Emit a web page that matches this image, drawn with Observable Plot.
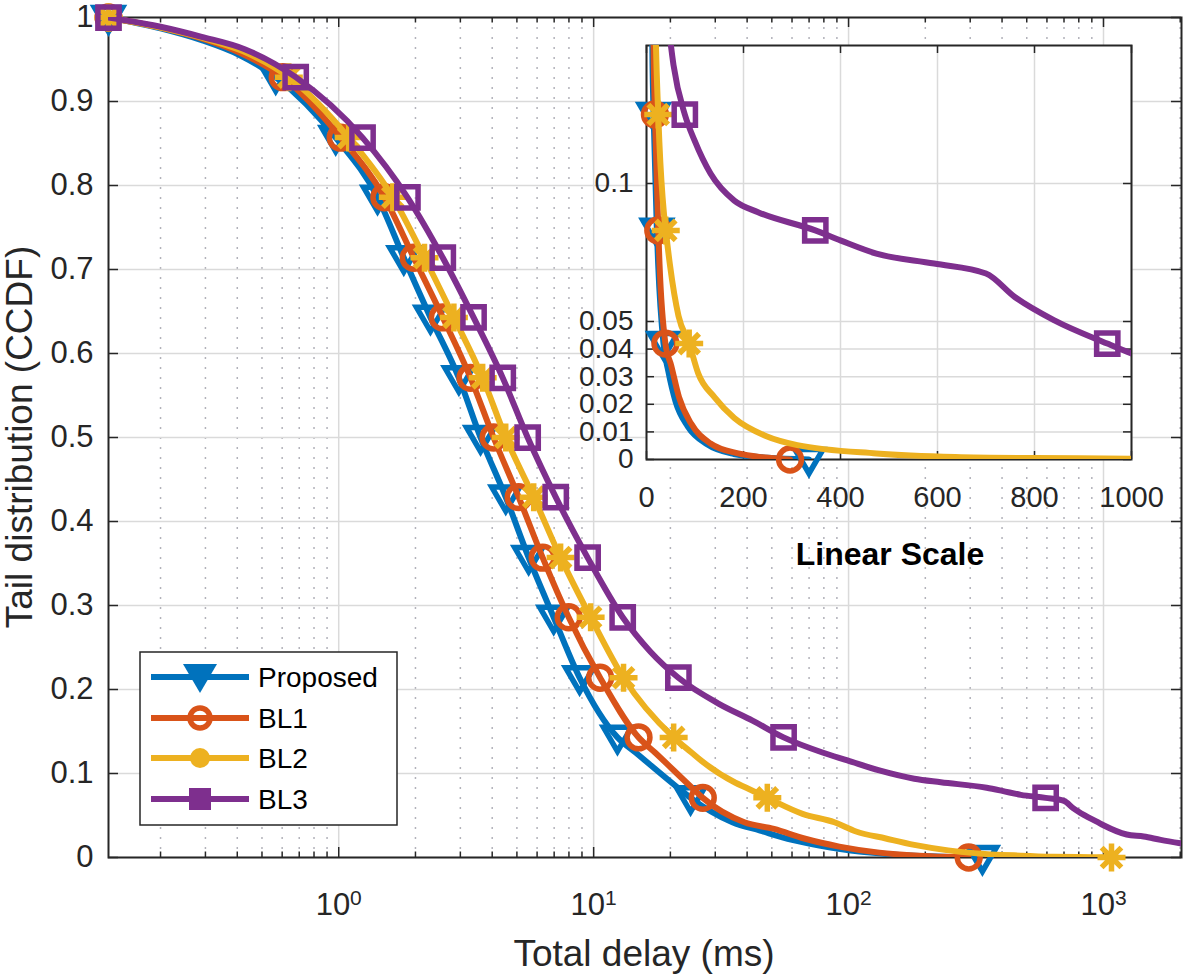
<!DOCTYPE html>
<html><head><meta charset="utf-8">
<script src="https://cdn.jsdelivr.net/npm/d3@7"></script>
<script src="https://cdn.jsdelivr.net/npm/@observablehq/plot@0.6"></script>
<style>
html,body{margin:0;padding:0;background:#fff;}
#wrap{position:relative;width:1183px;height:976px;overflow:hidden;font-family:"Liberation Sans",Arial,Helvetica,sans-serif;color:#262626;}
#wrap > *{position:absolute;}
</style></head><body><div id="wrap"></div>
<script>
// ---------------- data ----------------
const seriesNames = ["Proposed", "BL1", "BL2", "BL3"];
const seriesColors = ["#0072BD", "#D95319", "#EDB120", "#7E2F8E"];

const propDelay = [0.125, 0.2, 0.29, 0.41, 0.566, 0.973, 1.42, 1.80, 2.29, 2.96, 3.60, 4.52, 5.56, 6.97, 8.81, 12.4, 14.6, 21.4, 24.0, 35, 45, 60, 85, 125, 180, 250, 335];
const propCcdf  = [1, 0.987, 0.973, 0.955, 0.929, 0.857, 0.786, 0.714, 0.643, 0.571, 0.5, 0.429, 0.357, 0.286, 0.214, 0.143, 0.125, 0.083, 0.071, 0.042, 0.032, 0.021, 0.012, 0.0055, 0.002, 0.0006, 0];

const bl1Delay = [0.125, 0.2, 0.29, 0.41, 0.603, 1.018, 1.51, 1.97, 2.56, 3.29, 4.05, 5.08, 6.31, 7.98, 10.6, 15.0, 17.4, 24.3, 26.8, 39, 51, 67, 92, 132, 189, 240, 296];
const bl1Ccdf  = [1, 0.988, 0.975, 0.958, 0.929, 0.857, 0.786, 0.714, 0.643, 0.571, 0.5, 0.429, 0.357, 0.286, 0.214, 0.143, 0.125, 0.083, 0.071, 0.042, 0.034, 0.0226, 0.013, 0.0058, 0.0022, 0.0008, 0];

const bl2Delay = [0.125, 0.2, 0.29, 0.42, 0.637, 1.094, 1.63, 2.17, 2.83, 3.67, 4.52, 5.82, 7.42, 9.73, 13.1, 20.6, 24.2, 26.5, 36, 39.7, 48, 66, 88, 107, 140, 181, 246, 311, 474, 637, 800, 1000, 1075];
const bl2Ccdf  = [1, 0.988, 0.976, 0.96, 0.929, 0.857, 0.786, 0.714, 0.643, 0.571, 0.5, 0.429, 0.357, 0.286, 0.214, 0.143, 0.125, 0.115, 0.089, 0.083, 0.071, 0.052, 0.042, 0.031, 0.0226, 0.015, 0.0085, 0.0052, 0.0022, 0.0009, 0.0005, 0.0003, 0];

const bl3Delay = [0.125, 0.2, 0.29, 0.43, 0.678, 1.24, 1.86, 2.56, 3.38, 4.40, 5.51, 7.10, 9.47, 13.0, 16.7, 21.5, 31, 42, 55.6, 79, 99, 132, 181, 230, 348, 401, 474, 593, 700, 760, 841, 950, 1000, 1233, 1438, 1676, 2023];
const bl3Ccdf  = [1, 0.989, 0.977, 0.962, 0.929, 0.857, 0.786, 0.714, 0.643, 0.571, 0.5, 0.429, 0.357, 0.286, 0.245, 0.214, 0.183, 0.163, 0.143, 0.125, 0.1156, 0.1036, 0.0938, 0.0896, 0.083, 0.0793, 0.0746, 0.071, 0.0674, 0.0588, 0.0504, 0.042, 0.0384, 0.0274, 0.025, 0.021, 0.0167];

// marker levels (main plot markers and inset markers)
const mainMarkerLevels  = [1, 0.929, 0.857, 0.786, 0.714, 0.643, 0.571, 0.5, 0.429, 0.357, 0.286, 0.214, 0.143, 0.071, 0];
const insetMarkerLevels = [0.125, 0.083, 0.042, 0];

// axes ticks
const mainYTicks   = [0, 0.1, 0.2, 0.3, 0.4, 0.5, 0.6, 0.7, 0.8, 0.9, 1];
const mainXMajor   = [1, 10, 100, 1000];
const mainXMinor   = [0.2, 0.3, 0.4, 0.5, 0.6, 0.7, 0.8, 0.9, 2, 3, 4, 5, 6, 7, 8, 9, 20, 30, 40, 50, 60, 70, 80, 90, 200, 300, 400, 500, 600, 700, 800, 900, 2000];
const insetXTicks  = [0, 200, 400, 600, 800, 1000];
const insetYTicks  = [0, 0.01, 0.02, 0.03, 0.04, 0.05, 0.1];

const xLabel = "Total delay (ms)";
const yLabel = "Tail distribution (CCDF)";
const insetLabel = "Linear Scale";

// ---------------- rendering ----------------
const FONT = '"Liberation Sans", Arial, Helvetica, sans-serif';
const AX = "#262626", GRID = "#dadada", MINOR = "#b2b2ba";
const LW = 6, MW = 5.5;

const triDown = {draw(c, s){const r=Math.sqrt(s/Math.PI); c.moveTo(-r,-0.72*r); c.lineTo(r,-0.72*r); c.lineTo(0,1.0*r); c.closePath();}};
const circ = {draw(c, s){const r=Math.sqrt(s/Math.PI)*0.95; c.moveTo(r,0); c.arc(0,0,r,0,2*Math.PI); c.closePath();}};
const sq = {draw(c, s){const r=Math.sqrt(s/Math.PI)*0.85; c.rect(-r,-r,2*r,2*r);}};
const ast = {draw(c, s){const r=Math.sqrt(s/Math.PI); const d=r*Math.SQRT1_2;
  c.moveTo(-r,0); c.lineTo(r,0); c.moveTo(0,-r); c.lineTo(0,r);
  c.moveTo(-d,-d); c.lineTo(d,d); c.moveTo(-d,d); c.lineTo(d,-d);}};

const rows = (xs, ys) => xs.map((x, i) => ({delay: x, ccdf: ys[i]}));
const series = [
  {data: rows(propDelay, propCcdf), symbol: triDown, r: 14},
  {data: rows(bl1Delay, bl1Ccdf), symbol: circ, r: 12},
  {data: rows(bl2Delay, bl2Ccdf), symbol: ast, r: 14},
  {data: rows(bl3Delay, bl3Ccdf), symbol: sq, r: 12.5}
].map((s, i) => ({...s, name: seriesNames[i], color: seriesColors[i]}));

const wrap = document.getElementById("wrap");

// main plot
const W = 1183, H = 976, mL = 108, mR = 2, mT = 17, mB = 119;
const iW = W - mL - mR, iH = H - mT - mB;
const mainMarks = [
  Plot.ruleX(mainXMinor, {stroke: MINOR, strokeWidth: 1.5, strokeDasharray: "2,8"}),
  Plot.ruleX(mainXMajor, {stroke: GRID, strokeWidth: 1.5}),
  Plot.ruleY(mainYTicks, {stroke: GRID, strokeWidth: 1.5}),
  Plot.frame({stroke: AX, strokeWidth: 2}),
  Plot.ruleX(mainXMajor, {stroke: AX, strokeWidth: 1.5, insetTop: iH - 10}),
  Plot.ruleX(mainXMajor, {stroke: AX, strokeWidth: 1.5, insetBottom: iH - 10}),
  Plot.ruleX(mainXMinor, {stroke: AX, strokeWidth: 1.5, insetTop: iH - 5.5}),
  Plot.ruleX(mainXMinor, {stroke: AX, strokeWidth: 1.5, insetBottom: iH - 5.5}),
  Plot.ruleY(mainYTicks, {stroke: AX, strokeWidth: 1.5, insetRight: iW - 10}),
  Plot.ruleY(mainYTicks, {stroke: AX, strokeWidth: 1.5, insetLeft: iW - 10}),
  Plot.axisY({ticks: mainYTicks, tickSize: 0, tickPadding: 15, tickFormat: d => String(d), fontSize: 31, label: null}),
  Plot.axisX({ticks: mainXMajor, tickSize: 0, tickPadding: 35, tickFormat: d => "10^" + Math.round(Math.log10(d)), fontSize: 31, label: null})
];
for (const s of series) {
  mainMarks.push(Plot.line(s.data, {x: "delay", y: "ccdf", stroke: s.color, strokeWidth: LW, curve: "monotone-x", clip: true}));
  mainMarks.push(Plot.dot(s.data.filter(d => mainMarkerLevels.includes(d.ccdf)), {x: "delay", y: "ccdf", symbol: s.symbol, r: s.r, stroke: s.color, strokeWidth: MW, fill: "none"}));
}
const mainSvg = Plot.plot({
  width: W, height: H, marginLeft: mL, marginRight: mR, marginTop: mT, marginBottom: mB,
  x: {type: "log", domain: [0.125, 2023]},
  y: {domain: [0, 1]},
  style: {fontFamily: FONT, fontSize: "31px", color: AX, background: "transparent", overflow: "visible"},
  marks: mainMarks
});
mainSvg.style.left = "0px"; mainSvg.style.top = "0px";
wrap.appendChild(mainSvg);

// superscript exponents on the log axis labels
mainSvg.querySelectorAll("text").forEach(t => {
  const s = t.textContent;
  const m = /^10\^(\d)$/.exec(s);
  if (m) {
    t.textContent = "10";
    const ts = document.createElementNS("http://www.w3.org/2000/svg", "tspan");
    ts.setAttribute("dy", "-0.45em"); ts.setAttribute("font-size", "21px"); ts.textContent = m[1];
    t.appendChild(ts);
  }
});

// inset plot
const IL = 560, IT = 25, IWd = 600, IHt = 560;
const iml = 646 - IL, imt = 45 - IT, imr = IL + IWd - 1131, imb = IT + IHt - 459;
const iiW = IWd - iml - imr, iiH = IHt - imt - imb;
const insetMarks = [
  Plot.frame({fill: "white"}),
  Plot.ruleX(insetXTicks, {stroke: GRID, strokeWidth: 1.5}),
  Plot.ruleY(insetYTicks, {stroke: GRID, strokeWidth: 1.5}),
  Plot.frame({stroke: AX, strokeWidth: 2}),
  Plot.ruleX(insetXTicks, {stroke: AX, strokeWidth: 1.5, insetTop: iiH - 8}),
  Plot.ruleX(insetXTicks, {stroke: AX, strokeWidth: 1.5, insetBottom: iiH - 8}),
  Plot.ruleY(insetYTicks, {stroke: AX, strokeWidth: 1.5, insetRight: iiW - 8}),
  Plot.ruleY(insetYTicks, {stroke: AX, strokeWidth: 1.5, insetLeft: iiW - 8}),
  Plot.axisY({ticks: insetYTicks, tickSize: 0, tickPadding: 13, tickFormat: d => String(d), fontSize: 28, label: null}),
  Plot.axisX({ticks: insetXTicks, tickSize: 0, tickPadding: 27, tickFormat: d => String(d), fontSize: 29, label: null})
];
for (const s of series) {
  insetMarks.push(Plot.line(s.data, {x: "delay", y: "ccdf", stroke: s.color, strokeWidth: LW, curve: "monotone-x", clip: true}));
  insetMarks.push(Plot.dot(s.data.filter(d => insetMarkerLevels.includes(d.ccdf) && d.delay <= 1000), {x: "delay", y: "ccdf", symbol: s.symbol, r: s.r, stroke: s.color, strokeWidth: MW, fill: "none"}));
}
const insetSvg = Plot.plot({
  width: IWd, height: IHt, marginLeft: iml, marginRight: imr, marginTop: imt, marginBottom: imb,
  x: {domain: [0, 1000]},
  y: {domain: [0, 0.15]},
  style: {fontFamily: FONT, fontSize: "29px", color: AX, background: "transparent", overflow: "visible"},
  marks: insetMarks
});
insetSvg.style.left = IL + "px"; insetSvg.style.top = IT + "px";
wrap.appendChild(insetSvg);

// titles + legend overlay
const NS = "http://www.w3.org/2000/svg";
const ov = document.createElementNS(NS, "svg");
ov.setAttribute("width", W); ov.setAttribute("height", H);
ov.style.left = "0px"; ov.style.top = "0px"; ov.style.overflow = "visible";
ov.setAttribute("font-family", FONT);
function el(tag, attrs, text) {
  const e = document.createElementNS(NS, tag);
  for (const k in attrs) e.setAttribute(k, attrs[k]);
  if (text != null) e.textContent = text;
  ov.appendChild(e); return e;
}
el("text", {x: 644, y: 966, "text-anchor": "middle", "font-size": 37, fill: AX}, xLabel);
el("text", {x: 0, y: 0, transform: "translate(32,437) rotate(-90)", "text-anchor": "middle", "font-size": 37, fill: AX}, yLabel);
el("text", {x: 890, y: 565, "text-anchor": "middle", "font-size": 32, "font-weight": "bold", fill: "#000"}, insetLabel);

// legend
const LX = 140, LY = 652, LWd = 257, LH = 173;
el("rect", {x: LX, y: LY, width: LWd, height: LH, fill: "white", stroke: AX, "stroke-width": 1.5});
const rowY = [677, 718, 758, 799];
series.forEach((s, i) => {
  const y = rowY[i];
  el("line", {x1: 151, x2: 249, y1: y, y2: y, stroke: s.color, "stroke-width": LW});
  if (i === 0) el("path", {d: `M${200-17},${y-13} L${200+17},${y-13} L200,${y+16} Z`, fill: s.color});
  if (i === 1) el("circle", {cx: 200, cy: y, r: 10, fill: "none", stroke: s.color, "stroke-width": 5.5});
  if (i === 2) el("circle", {cx: 200, cy: y, r: 10, fill: s.color});
  if (i === 3) el("rect", {x: 189, y: y - 11, width: 22, height: 22, fill: s.color});
  el("text", {x: 258, y: y + 10, "font-size": 28, fill: "#000"}, s.name);
});
wrap.appendChild(ov);
</script></body></html>
